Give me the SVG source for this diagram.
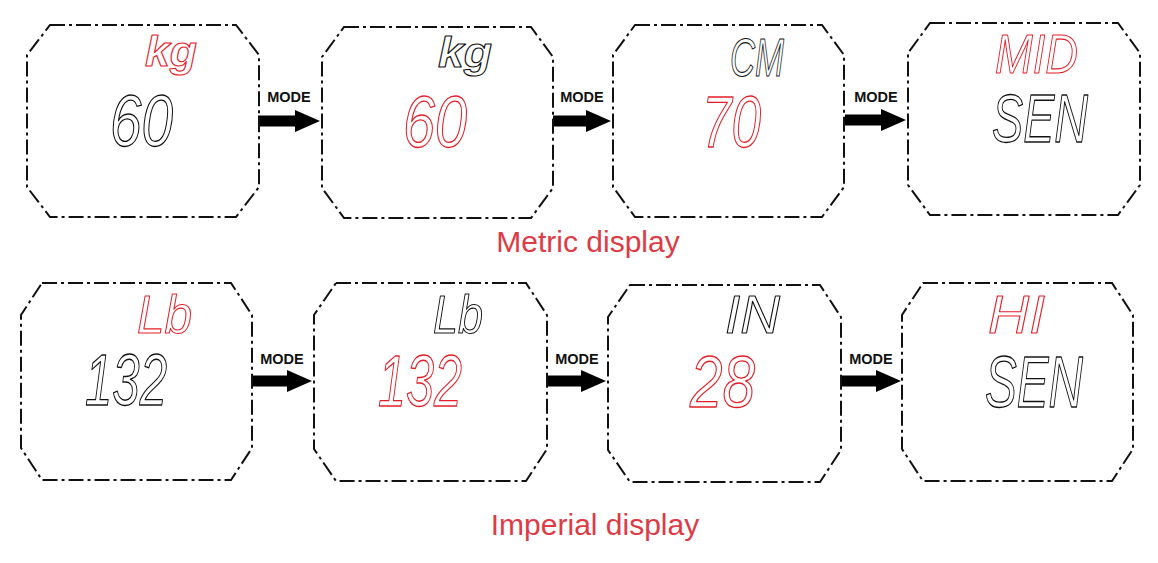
<svg xmlns="http://www.w3.org/2000/svg" width="1158" height="563" viewBox="0 0 1158 563">
<style>
.box{fill:none;stroke:#111;stroke-width:2;stroke-dasharray:15 4 3 4;}
.arr{fill:#000;}
.mode{font-family:"Liberation Sans",Arial,sans-serif;font-weight:bold;font-size:14.5px;fill:#111;text-anchor:middle;}
.seg{font-family:"Liberation Sans",Arial,sans-serif;font-style:italic;fill:#fff;stroke-width:1.3;stroke-linejoin:round;}
.blk{stroke:#111;}
.red{stroke:#e3202a;}
.big{font-size:72px;}
.sm{font-size:53px;stroke-width:1.1;}
.kg{font-size:42px;font-weight:bold;stroke-width:1.1;}
.cap{font-family:"Liberation Sans",Arial,sans-serif;font-size:30px;fill:#dd3b45;text-anchor:middle;}
</style>
<rect width="1158" height="563" fill="#fff"/>
<g id="connectors">
<g id="a1"><text class="mode" x="289" y="102">MODE</text><polygon class="arr" points="258,115.5 295,115.5 295,110 320,121 295,132 295,126.5 258,126.5"/></g>
<g id="a2"><text class="mode" x="582" y="102">MODE</text><polygon class="arr" points="553,115.5 586,115.5 586,110 611,121 586,132 586,126.5 553,126.5"/></g>
<g id="a3"><text class="mode" x="876" y="102">MODE</text><polygon class="arr" points="845,114.5 881,114.5 881,109 906,120 881,131 881,125.5 845,125.5"/></g>
<g id="a4"><text class="mode" x="282" y="364">MODE</text><polygon class="arr" points="252,375.5 287,375.5 287,370 312,381 287,392 287,386.5 252,386.5"/></g>
<g id="a5"><text class="mode" x="577" y="364">MODE</text><polygon class="arr" points="547,375.5 581,375.5 581,370 606,381 581,392 581,386.5 547,386.5"/></g>
<g id="a6"><text class="mode" x="871" y="364">MODE</text><polygon class="arr" points="841,375.5 876,375.5 876,370 901,381 876,392 876,386.5 841,386.5"/></g>
</g>
<g id="m1">
<path class="box" d="M50,25 H236 L259,55 V187 L236,217 H50 L27,187 V55 Z"/>
<text class="seg red kg" x="145" y="66" textLength="52" lengthAdjust="spacingAndGlyphs">kg</text>
<text class="seg blk big" x="110" y="146" textLength="63" lengthAdjust="spacingAndGlyphs">60</text>
</g>
<g id="m2">
<path class="box" d="M344,27 H531 L553,57 V188 L531,218 H344 L322,188 V57 Z"/>
<text class="seg blk kg" x="438" y="67" textLength="54" lengthAdjust="spacingAndGlyphs">kg</text>
<text class="seg red big" x="403" y="147" textLength="64" lengthAdjust="spacingAndGlyphs">60</text>
</g>
<g id="m3">
<path class="box" d="M635,25 H822 L844,55 V187 L822,217 H635 L613,187 V55 Z"/>
<text class="seg blk sm" x="730" y="76" textLength="54" lengthAdjust="spacingAndGlyphs">CM</text>
<text class="seg red big" x="702" y="147" textLength="59" lengthAdjust="spacingAndGlyphs">70</text>
</g>
<g id="m4">
<path class="box" d="M930,23 H1118 L1140,53 V185 L1118,215 H930 L908,185 V53 Z"/>
<text class="seg red sm" style="font-size:55px" x="995" y="73" textLength="83" lengthAdjust="spacingAndGlyphs">MID</text>
<text class="seg blk" style="font-size:68px" x="992" y="142" textLength="96" lengthAdjust="spacingAndGlyphs">SEN</text>
</g>
<g id="i1">
<path class="box" d="M42,283 H231 L252,315 V448 L231,480 H42 L21,448 V315 Z"/>
<text class="seg red sm" x="137" y="333" textLength="55" lengthAdjust="spacingAndGlyphs">Lb</text>
<text class="seg blk big" x="85" y="405" textLength="82" lengthAdjust="spacingAndGlyphs">132</text>
</g>
<g id="i2">
<path class="box" d="M336,283 H526 L547,315 V449 L526,481 H336 L314,449 V315 Z"/>
<text class="seg blk sm" x="433" y="333" textLength="50" lengthAdjust="spacingAndGlyphs">Lb</text>
<text class="seg red big" x="378" y="406" textLength="84" lengthAdjust="spacingAndGlyphs">132</text>
</g>
<g id="i3">
<path class="box" d="M630,285 H820 L841,317 V450 L820,482 H630 L608,450 V317 Z"/>
<text class="seg blk sm" x="725" y="333" textLength="55" lengthAdjust="spacingAndGlyphs">IN</text>
<text class="seg red big" x="690" y="407" textLength="65" lengthAdjust="spacingAndGlyphs">28</text>
</g>
<g id="i4">
<path class="box" d="M923,283 H1112 L1133,315 V449 L1112,481 H923 L902,449 V315 Z"/>
<text class="seg red sm" x="988" y="333" textLength="57" lengthAdjust="spacingAndGlyphs">HI</text>
<text class="seg blk big" x="985" y="407" textLength="98" lengthAdjust="spacingAndGlyphs">SEN</text>
</g>
<text class="cap" x="588" y="252">Metric display</text>
<text class="cap" x="595" y="535">Imperial display</text>
</svg>
